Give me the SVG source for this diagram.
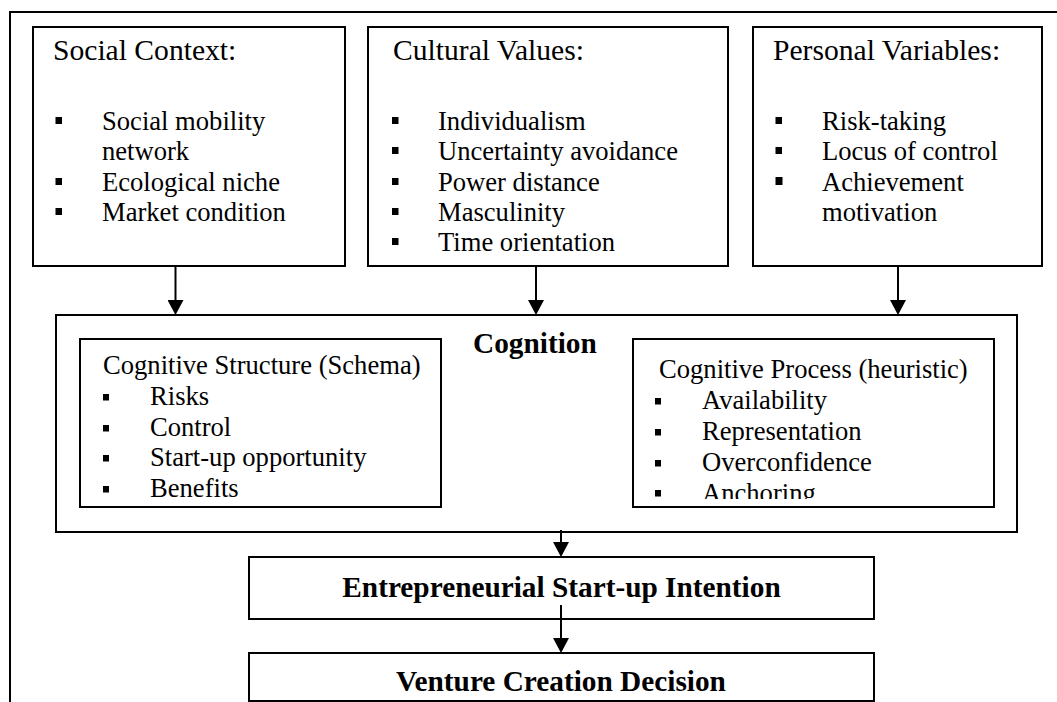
<svg xmlns="http://www.w3.org/2000/svg" width="1057" height="702" viewBox="0 0 1057 702">
<style>
.box{fill:#fff;stroke:#000;stroke-width:2}
.t{font-family:"Liberation Serif","Times New Roman",serif;font-size:26.6px;fill:#000}
.h{font-size:29.6px}
.b{font-weight:bold;font-size:29.3px}
.bul{fill:#000}
.frame{fill:none;stroke:#000;stroke-width:2}
.edge{fill:none;stroke:#000;stroke-width:2}
</style>
<defs>
<marker id="arr" viewBox="0 0 15 16" refX="5" refY="8" markerWidth="15" markerHeight="16" markerUnits="userSpaceOnUse" orient="auto">
<path d="M0,0 L15,8 L0,16 z" fill="#000"/>
</marker>
<clipPath id="clipH"><rect x="633" y="339" width="361" height="160"/></clipPath>
</defs>
<rect width="1057" height="702" fill="#fff"/>
<path class="frame" d="M10,703 V12 H1058"/>

<g id="social">
<rect class="box" x="33" y="27" width="312" height="239"/>
<text class="t h" x="53" y="60">Social Context:</text>
<rect class="bul" x="55.5" y="117" width="6.5" height="7"/>
<text class="t" x="102" y="130">Social mobility</text>
<text class="t" x="102" y="160">network</text>
<rect class="bul" x="55.5" y="178" width="6.5" height="7"/>
<text class="t" x="102" y="191">Ecological niche</text>
<rect class="bul" x="55.5" y="208" width="6.5" height="7"/>
<text class="t" x="102" y="221">Market condition</text>
</g>

<g id="cultural">
<rect class="box" x="368" y="27" width="360" height="239"/>
<text class="t h" x="393" y="60">Cultural Values:</text>
<rect class="bul" x="392" y="117" width="6.5" height="7"/>
<text class="t" x="438" y="130">Individualism</text>
<rect class="bul" x="392" y="147" width="6.5" height="7"/>
<text class="t" x="438" y="160">Uncertainty avoidance</text>
<rect class="bul" x="392" y="178" width="6.5" height="7"/>
<text class="t" x="438" y="191">Power distance</text>
<rect class="bul" x="392" y="208" width="6.5" height="7"/>
<text class="t" x="438" y="221">Masculinity</text>
<rect class="bul" x="392" y="238" width="6.5" height="7"/>
<text class="t" x="438" y="251">Time orientation</text>
</g>

<g id="personal">
<rect class="box" x="753" y="27" width="289" height="239"/>
<text class="t h" x="773" y="60">Personal Variables:</text>
<rect class="bul" x="775.5" y="117" width="6.5" height="7"/>
<text class="t" x="822" y="130">Risk-taking</text>
<rect class="bul" x="775.5" y="147" width="6.5" height="7"/>
<text class="t" x="822" y="160">Locus of control</text>
<rect class="bul" x="775.5" y="177" width="7" height="8"/>
<text class="t" x="822" y="191">Achievement</text>
<text class="t" x="822" y="221">motivation</text>
</g>

<g id="cognition">
<rect class="box" x="56" y="315" width="961" height="217"/>
<text class="t b" x="473" y="353">Cognition</text>
</g>

<g id="schema">
<rect class="box" x="80" y="339" width="361" height="168"/>
<text class="t" x="103" y="374">Cognitive Structure (Schema)</text>
<rect class="bul" x="103" y="394" width="6" height="6.5"/>
<text class="t" x="150" y="405">Risks</text>
<rect class="bul" x="103" y="425" width="6" height="6.5"/>
<text class="t" x="150" y="436">Control</text>
<rect class="bul" x="103" y="455" width="6" height="6.5"/>
<text class="t" x="150" y="466">Start-up opportunity</text>
<rect class="bul" x="103" y="486" width="6" height="6.5"/>
<text class="t" x="150" y="497">Benefits</text>
</g>

<g id="heuristic">
<rect class="box" x="633" y="339" width="361" height="168"/>
<text class="t" x="659" y="378">Cognitive Process (heuristic)</text>
<rect class="bul" x="655" y="398" width="6" height="6.5"/>
<text class="t" x="702" y="409">Availability</text>
<rect class="bul" x="655" y="429" width="6" height="6.5"/>
<text class="t" x="702" y="440">Representation</text>
<rect class="bul" x="655" y="460" width="6" height="6.5"/>
<text class="t" x="702" y="471">Overconfidence</text>
<rect class="bul" x="655" y="490" width="6" height="6.5"/>
<g clip-path="url(#clipH)">
<text class="t" x="702" y="502">Anchoring</text>
</g>
</g>

<g id="intention">
<rect class="box" x="249" y="557" width="625" height="62"/>
<text class="t b" text-anchor="middle" x="561.5" y="597">Entrepreneurial Start-up Intention</text>
</g>

<g id="decision">
<rect class="box" x="249" y="653" width="625" height="48"/>
<text class="t b" text-anchor="middle" x="561" y="691">Venture Creation Decision</text>
</g>

<g id="connectors">
<line class="edge" x1="175.5" y1="266" x2="175.5" y2="305" marker-end="url(#arr)"/>
<line class="edge" x1="536" y1="266" x2="536" y2="305" marker-end="url(#arr)"/>
<line class="edge" x1="898" y1="266" x2="898" y2="305" marker-end="url(#arr)"/>
<line class="edge" x1="561" y1="530" x2="561" y2="547" marker-end="url(#arr)"/>
<line class="edge" x1="561" y1="605" x2="561" y2="643" marker-end="url(#arr)"/>
</g>
</svg>
